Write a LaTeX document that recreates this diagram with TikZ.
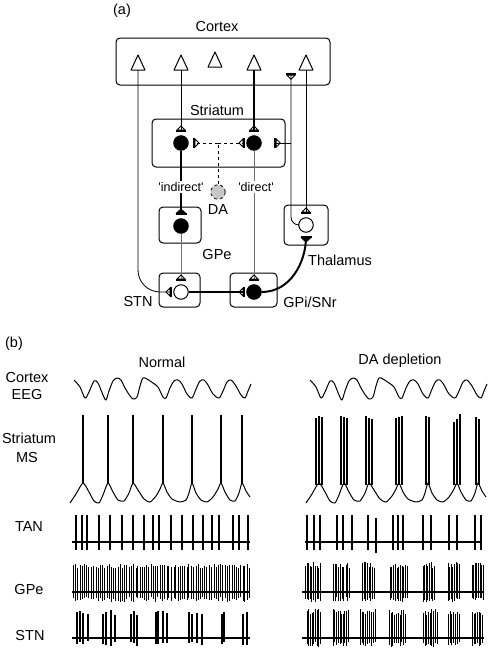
\documentclass[tikz,border=0pt]{standalone}
\usepackage{fontspec}
\setmainfont{Liberation Sans}
\usetikzlibrary{arrows.meta}
\tikzset{
  every node/.style={font=\fontsize{14.5}{17}\selectfont},
  box/.style={draw,rounded corners=4pt,line width=1pt,inner sep=0pt},
  cell/.style={draw,circle,line width=1pt,minimum size=14.5pt,inner sep=0pt},
  on/.style={cell,fill=black},
  tag/.style={fill=white,inner sep=1pt,font=\fontsize{12.5}{15}\selectfont},
  syn/.tip={Triangle[open,reversed,length=5pt,width=10pt,line width=0.8pt,color=black] Bar[width=10pt,line width=1.8pt,color=black]},
  synk/.tip={Triangle[reversed,length=5pt,width=11pt] Bar[width=11pt,line width=1.8pt]},
}
\begin{document}
\begin{tikzpicture}[x=1pt,y=-1pt,line width=0.8pt]
\useasboundingbox (0,0) rectangle (490,649);
% (a)
\node (la) at (122,11) {(a)};
\node (ctx) [box,minimum width=214pt,minimum height=47pt] at (223,61.5) {};
\node (lctx) at (217,27) {Cortex};
\foreach \x/\y [count=\i] in {138/70,181/70,215/67,254/70,306/70}{
  \draw[line width=1pt,line join=round] (\x,\y) -- ++(-7,0) -- ++(7,-15) -- ++(7,15) -- cycle;
  \coordinate (p\i) at (\x,\y);
}
\node (str) [box,minimum width=133pt,minimum height=48pt] at (218.5,143) {};
\node (lstr) at (217,110) {Striatum};
\node (ind) [on] at (181,143) {};
\node (dir) [on] at (254,143) {};
\node (da) [cell,dashed,fill=black!22,line width=0.8pt] at (218,192) {};
\node (lda) at (218,210) {DA};
\node (gpebox) [box,minimum width=42pt,minimum height=36pt] at (180,225) {};
\node (gpe) [on] at (181,226) {};
\node (lgpe) at (217,255) {GPe};
\node (stnbox) [box,minimum width=41pt,minimum height=34pt] at (179.5,290) {};
\node (stn) [cell] at (181,292) {};
\node (lstn) at (138,302) {STN};
\node (gpibox) [box,minimum width=47pt,minimum height=34pt] at (253.5,290) {};
\node (gpi) [on] at (254,292) {};
\node (lgpi) at (310,302) {GPi/SNr};
\node (thbox) [box,minimum width=44pt,minimum height=40pt] at (306,225) {};
\node (thal) [cell] at (306,225) {};
\node (lthal) at (340,260) {Thalamus};
\coordinate (ctxsyn) at (291,73);
\coordinate (thstr) at (274,143);
\draw[-syn,shorten >=1pt,rounded corners=22pt] (p1) |- (stn.west);
\draw[-syn,shorten >=3pt] (p2) -- (ind.north);
\draw[-syn,shorten >=3pt,line width=1.4pt] (p4) -- (dir.north);
\draw[-syn,shorten >=3pt] (p5) -- (thal.north);
\draw[-syn,rounded corners=8pt] (thal.west) -| (ctxsyn);
\draw[-syn] (ctxsyn |- thstr) -- (thstr);
\draw[dashed] (da) -- (da |- ind);
\draw[dashed,-syn,shorten >=4pt] (da |- ind) -- (ind);
\draw[dashed,-syn,shorten >=1pt] (da |- dir) -- (dir);
\draw[-synk,line width=2pt,shorten >=3pt] (ind) -- (gpe);
\draw[black!55,line width=0.6pt,-syn,shorten >=3pt] (dir) -- (gpi);
\draw[black!55,line width=0.6pt,-syn,shorten >=3pt] (gpe) -- (stn);
\draw[-syn,line width=2pt,shorten >=1pt] (stn) -- (gpi);
\draw[-synk,line width=2pt,shorten >=3pt] (gpi.east) to[out=0,in=-90] (thal.south);
\node (lind) [tag] at (181,187) {\textquotesingle indirect\textquotesingle};
\node (ldir) [tag] at (256,187) {\textquotesingle direct\textquotesingle};
% (b)
\node (lb) at (14,344) {(b)};
\node (lnorm) at (162,362) {Normal};
\node (ldep) at (400,361) {DA depletion};
\node (lcx) at (27,378) {Cortex};
\node (leeg) at (27,395) {EEG};
\node (lst) at (29,438) {Striatum};
\node (lms) at (27,458) {MS};
\node (ltan) at (29,527) {TAN};
\node (lgp) at (29,590) {GPe};
\node (lsn) at (30,635) {STN};
\foreach \d in {0,236}{
  \draw[line width=1pt,line join=round,shift={(\d,0)}] plot[smooth,tension=0.5] coordinates {
    (74,380) (80,387) (85,398) (89,392) (94,381) (98,383) (103,395) (106,400)
    (109,391) (113,381) (117,378) (121,380) (124,386) (128,393) (133,399) (137,397)
    (140,386) (143,378) (147,379) (153,383) (158,387) (163,397) (166,398) (170,388)
    (174,381) (178,380) (182,384) (187,394) (192,398) (196,389) (200,381) (204,380)
    (208,385) (213,394) (219,398) (223,391) (227,382) (231,380) (236,386) (241,395)
    (245,398) (248,391) (251,384)};
  \draw[line width=1pt,line join=round,shift={(\d,0)}] plot[smooth,tension=0.4] coordinates {
    (70,503) (76,494) (83,483) (89,492) (94,501) (99,503) (103,495) (108,483)
    (113,492) (118,500) (124,501) (129,493) (133,483) (138,490) (144,499) (150,502)
    (156,496) (160,489) (163,483) (167,492) (172,499) (180,502) (186,500) (189,493)
    (192,483) (196,493) (201,500) (207,502) (213,497) (218,489) (221,483) (225,492)
    (230,500) (235,501) (239,493) (242,483) (246,491) (250,497)};
}
\foreach \x in {83,108,133,163,192,221,242}
  \draw[line width=1.2pt] (\x,415) -- (\x,484);
\foreach \x/\t in {316/418,319/416,322/417,341/416,344/417,347/418,366/416,369/418,
  372/419,396/418,399/417,402/416,426/416,429/417,454/422,457/419,460/414,476/417,479/419}
  \draw[line width=1.2pt] (\x,\t) -- (\x,485);
% TAN
\draw[line width=1.2pt] (72,542) -- (250,542);
\foreach \x in {76,82,87,99,110,122,133,144,153,159,171,182,193,203,212,219,233,239,248}
  \draw[line width=1.1pt] (\x,515) -- (\x,550);
\draw[line width=1.2pt] (305,542) -- (482,542);
\foreach \x in {307,314,320,337,343,352,368,393,398,403,423,431,449,457,475,481}
  \draw[line width=1.1pt] (\x,515) -- (\x,550);
\draw[line width=1.1pt] (376,518) -- (376,553);
% GPe
\pgfmathsetseed{7}
\draw[line width=1.2pt] (72,592) -- (250,592);
\foreach \i in {0,...,79}{
  \pgfmathsetmacro\x{73+\i*2.23+rnd*0.8}
  \pgfmathsetmacro\t{564+rnd*4}
  \pgfmathsetmacro\b{597+rnd*5}
  \draw[line width=1pt] (\x,\t) -- (\x,\b);
}
\draw[line width=1.2pt] (302,592) -- (484,592);
\foreach \a/\b/\n in {305/320/9,333/349/9,362/374/7,390/407/10,423/434/7,448/459/7,472/483/7}
  \foreach \k in {0,...,\n}{
    \pgfmathsetmacro\x{\a+\k*(\b-\a)/\n+rnd*0.6}
    \pgfmathsetmacro\t{562+rnd*6}
    \pgfmathsetmacro\s{597+rnd*5}
    \draw[line width=1pt] (\x,\t) -- (\x,\s);
  }
% STN
\draw[line width=1.2pt] (72,638) -- (250,638);
\foreach \x in {77,80,83,88,103,106,111,115,131,134,137,156,158,163,167,189,192,197,202,222,224,243,247}{
  \pgfmathsetmacro\t{610+rnd*5}
  \pgfmathsetmacro\s{641+rnd*5}
  \draw[line width=1.1pt] (\x,\t) -- (\x,\s);
}
\draw[line width=1.2pt] (302,638) -- (484,638);
\foreach \a/\b/\n in {307/320/8,333/348/9,360/375/8,389/405/9,423/437/8,448/459/6,472/482/6}
  \foreach \k in {0,...,\n}{
    \pgfmathsetmacro\x{\a+\k*(\b-\a)/\n+rnd*0.6}
    \pgfmathsetmacro\t{609+rnd*6}
    \pgfmathsetmacro\s{642+rnd*5}
    \draw[line width=1pt] (\x,\t) -- (\x,\s);
  }
\end{tikzpicture}
\end{document}
